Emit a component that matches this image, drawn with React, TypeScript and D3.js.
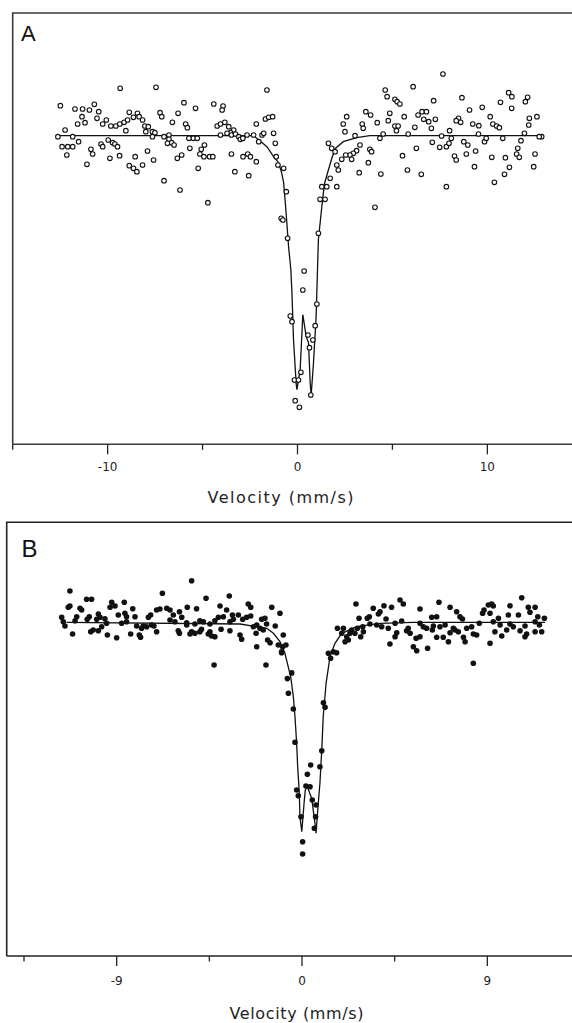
import React from "react";
import * as d3 from "d3";

const W = 572;
const H = 1023;

const majorTicksA = [-10, 0, 10];
const minorTicksA = [-15, -5, 5, 15];
const majorTicksB = [-9, 0, 9];
const minorTicksB = [-13.5, -4.5, 4.5, 13.5];

// Panel A: [velocity (mm/s), relative transmission (%)]
const spectrumA: [number, number][] = [
  [-9.34,104.74],[-7.45,104.84],[-1.61,104.57],[-12.49,103.00],[-11.72,102.67],[-11.32,102.67],[-10.96,102.57],[-10.70,103.14],[-10.47,102.40],[-11.35,101.90],
  [-10.56,101.74],[-11.58,101.17],[-11.19,101.30],[-10.26,101.17],[-10.07,101.57],[-9.83,100.97],[-9.57,100.97],[-9.36,101.17],[-9.13,101.34],[-8.95,101.57],
  [-8.86,102.34],[-8.64,101.84],[-8.43,102.24],[-8.34,101.90],[-8.16,101.57],[-9.04,100.50],[-8.04,100.97],[-7.86,100.90],[-7.99,100.40],[-7.64,100.40],
  [-7.51,100.30],[-7.24,102.30],[-7.15,101.90],[-6.59,101.34],[-6.29,102.24],[-5.98,103.30],[-5.89,101.17],[-5.80,100.80],[-5.37,102.74],[-4.41,103.17],
  [-3.92,102.97],[-3.97,102.57],[-4.23,100.97],[-4.06,101.17],[-3.83,101.34],[-3.62,100.90],[-3.36,100.57],[-3.53,100.30],[-2.17,101.17],[-1.69,101.67],
  [-1.52,101.84],[-1.31,101.90],[-1.26,100.24],[-1.17,99.24],[-12.62,99.90],[-12.24,100.57],[-11.84,99.90],[-11.53,99.40],[-12.40,98.90],[-12.10,98.90],
  [-11.84,98.90],[-12.15,98.07],[-10.88,98.64],[-10.79,98.17],[-10.35,99.17],[-10.26,98.90],[-9.97,99.57],[-9.74,99.30],[-9.62,99.17],[-9.48,98.90],
  [-9.37,98.00],[-9.88,97.74],[-8.55,97.90],[-7.90,98.47],[-7.58,97.57],[-8.86,97.00],[-8.64,96.74],[-8.46,96.40],[-8.16,97.07],[-7.03,99.90],
  [-6.77,100.07],[-6.77,99.64],[-6.63,99.30],[-6.50,99.07],[-6.85,99.24],[-7.64,99.90],[-6.33,97.74],[-6.10,98.07],[-5.67,98.74],[-5.49,99.74],
  [-5.28,99.74],[-5.72,99.74],[-5.07,98.64],[-4.90,99.07],[-5.14,98.17],[-4.93,97.90],[-4.63,97.90],[-4.46,97.90],[-5.23,96.74],[-7.03,95.50],
  [-6.19,94.57],[-4.72,93.30],[-11.09,97.14],[-4.06,100.07],[-3.71,100.24],[-3.48,100.07],[-3.27,100.17],[-3.09,99.90],[-3.01,99.64],[-2.88,99.74],
  [-2.66,100.07],[-2.31,100.07],[-2.04,99.40],[-1.87,100.07],[-1.78,100.24],[-3.48,98.17],[-3.30,96.40],[-2.87,97.90],[-2.62,98.17],[-2.48,97.90],
  [-2.17,97.40],[-2.57,96.00],[-1.12,97.90],[-1.03,97.07],[-0.73,96.74],
  [-0.59,94.4],[-0.86,91.74],[-0.77,91.57],[-0.52,89.74],[1.28,94.9],[1.54,94.9],[1.19,93.64],[1.45,93.64],[2.07,94.9],[1.10,90.24],
  [0.35,86.47],[0.28,84.57],[1.02,83.17],[0.93,81.0],[-0.38,81.97],[-0.29,81.4],[0.55,80.07],[0.81,79.57],[0.63,78.8],[0.18,76.34],
  [-0.16,75.57],[0.05,75.57],[-0.12,73.5],[0.10,72.84],[0.70,74.07],
  [7.66,106.17],[4.62,104.57],[6.09,104.90],[4.72,103.90],[5.13,103.64],[5.25,103.40],[5.39,103.17],[7.17,103.50],[8.66,103.80],[11.12,104.30],
  [11.29,103.90],[12.12,103.84],[12.00,103.40],[10.69,103.34],[11.28,102.74],[9.73,102.84],[9.06,102.57],[2.59,101.90],[2.41,101.17],[2.50,100.40],
  [3.60,102.40],[3.85,102.07],[4.20,101.30],[3.41,101.17],[3.46,100.74],[4.78,101.50],[4.86,102.24],[5.62,101.90],[5.13,100.97],[5.30,100.97],
  [5.21,100.50],[6.35,102.07],[6.56,102.40],[6.79,102.40],[6.65,101.64],[6.91,101.40],[7.26,101.64],[7.05,100.74],[6.18,100.84],[8.48,101.74],
  [8.59,101.34],[8.36,101.50],[9.23,101.17],[9.55,101.00],[10.15,101.90],[10.29,101.17],[10.49,100.97],[10.63,100.80],[12.21,101.74],[12.61,101.90],
  [12.18,101.07],[8.01,100.50],[5.83,100.17],[4.51,100.17],[4.34,99.74],[3.03,100.00],[1.63,99.24],[1.80,98.74],[1.98,98.40],[3.29,99.07],
  [3.11,98.50],[2.94,98.24],[2.76,98.07],[2.54,98.07],[2.33,97.64],[2.85,97.64],[3.81,98.64],[3.90,98.40],[3.73,97.30],[2.07,97.07],
  [2.15,96.57],[3.25,96.30],[4.39,96.17],[5.53,98.00],[5.79,96.57],[6.52,96.14],[6.26,98.74],[7.10,99.34],[7.49,98.84],[7.59,99.97],
  [7.84,98.90],[7.98,99.24],[8.10,99.74],[8.27,97.97],[8.36,97.57],[8.89,98.17],[8.76,99.40],[8.97,99.07],[9.38,98.47],[9.32,96.90],
  [9.53,100.17],[9.85,99.40],[9.94,99.74],[10.23,97.84],[10.81,99.74],[10.95,97.80],[11.16,96.84],[10.90,96.14],[10.37,95.34],[11.60,98.74],
  [11.54,98.17],[11.68,97.84],[11.77,99.50],[11.95,100.24],[12.51,98.17],[12.44,96.90],[12.86,99.90],[12.73,99.90],[7.84,94.90],[4.08,92.84],
  [1.72,95.74],
];

const fitCurveA: [number, number][] = [
  [-12.71,100.0],[-2.31,100.0],[-2.05,99.6],[-1.61,98.9],[-1.26,97.9],[-1.0,97.3],[-0.85,96.4],[-0.73,95.3],[-0.65,93.5],[-0.55,91.0],
  [-0.47,88.9],[-0.35,86.6],[-0.29,84.2],[-0.21,79.6],[-0.07,75.2],[-0.03,74.6],[0.14,76.6],[0.28,82.1],[0.46,79.9],[0.58,79.3],
  [0.67,75.2],[0.72,74.1],[0.84,77.2],[0.98,81.9],[1.10,89.6],[1.28,92.9],[1.42,95.2],[1.63,96.6],[1.80,97.7],[1.98,98.7],
  [2.41,99.4],[3.12,99.8],[3.81,100.0],[12.91,100.0],
];

// Panel B: [velocity (mm/s), relative transmission (%)]
const spectrumB: [number, number][] = [
  [-5.36,104.16],[-11.27,103.13],[-6.78,102.90],[-4.66,102.40],[-3.53,102.63],[-10.46,102.30],[-10.22,102.30],[-8.63,102.00],[-9.24,102.00],[-11.27,101.63],
  [-11.35,101.50],[-10.78,101.40],[-10.70,101.23],[-9.32,101.50],[-9.08,101.63],[-8.22,101.36],[-7.06,101.23],[-6.90,101.33],[-6.57,101.40],[-6.41,101.23],
  [-5.95,101.06],[-5.57,101.50],[-5.12,101.36],[-3.98,101.63],[-3.66,101.23],[-2.61,101.83],[-2.49,101.50],[-1.47,101.50],[-1.07,100.90],[-11.67,100.50],
  [-10.94,100.56],[-10.33,100.56],[-9.89,100.83],[-9.81,100.50],[-8.92,100.73],[-8.60,100.90],[-8.52,100.56],[-8.11,100.56],[-7.46,100.50],[-7.35,100.73],
  [-6.25,100.73],[-5.84,100.50],[-5.60,99.96],[-4.06,100.50],[-3.82,100.56],[-3.38,100.73],[-3.09,100.73],[-2.88,100.30],[-2.69,100.50],[-2.49,100.63],
  [-1.96,100.30],[-1.80,100.40],[-11.59,100.06],[-11.02,100.16],[-10.43,100.30],[-9.97,100.30],[-9.57,100.36],[-9.49,99.90],[-8.76,99.90],[-8.52,100.06],
  [-8.03,99.63],[-7.79,99.40],[-7.71,99.63],[-7.54,99.56],[-7.30,99.73],[-7.19,99.63],[-6.41,100.23],[-6.17,100.06],[-5.60,99.73],[-5.20,99.83],
  [-4.96,100.16],[-4.79,100.06],[-4.47,99.83],[-4.23,100.16],[-3.50,100.06],[-3.33,100.30],[-2.20,99.73],[-2.36,99.56],[-2.04,99.40],[-1.72,99.83],
  [-11.51,99.63],[-11.14,98.83],[-10.26,99.06],[-10.14,99.23],[-9.89,99.16],[-9.73,99.56],[-9.45,98.73],[-9.00,98.46],[-8.32,98.83],[-7.90,98.73],
  [-7.84,98.50],[-7.06,99.06],[-5.95,98.90],[-6.01,99.16],[-5.44,98.83],[-5.36,99.06],[-5.20,98.90],[-4.96,99.06],[-4.88,99.30],[-4.55,98.83],
  [-4.39,98.63],[-4.47,99.06],[-4.23,98.56],[-3.93,99.30],[-3.50,99.16],[-3.01,98.73],[-2.93,98.30],[-2.23,98.90],[-1.88,99.23],[-1.67,98.23],
  [-1.55,97.96],[-1.30,99.63],[-0.91,98.73],[-1.15,97.73],[-0.94,97.56],[-0.78,97.73],[-0.99,97.06],[-4.27,95.73],[-1.75,95.73],[-2.20,97.56],
  [-0.99,96.96],[-0.50,94.94],[-0.71,94.37],[-0.66,92.90],[-0.42,91.33],[-0.34,88.0],[-0.26,83.23],[-0.18,82.66],[-0.05,80.56],[0.03,78.06],
  [0.03,76.83],[0.26,84.80],[0.42,85.73],[0.19,83.63],[0.39,83.56],[0.50,82.23],[0.68,81.73],[0.66,80.56],[0.60,79.40],[0.96,87.16],
  [0.87,85.56],[1.04,91.96],[1.12,91.50],[1.28,96.90],[1.39,96.40],[1.52,97.06],[1.68,96.96],
  [10.67,102.46],[2.62,101.83],[4.76,102.23],[4.92,101.83],[6.65,102.00],[3.98,101.66],[4.35,101.50],[5.73,101.33],[7.19,101.50],[7.51,101.06],
  [8.84,101.23],[9.05,101.73],[9.21,101.83],[9.29,101.63],[10.10,101.66],[10.99,101.50],[11.32,101.50],[3.46,101.40],[3.71,100.83],[3.79,101.06],
  [3.27,100.56],[2.77,100.40],[3.17,100.40],[4.08,100.33],[4.52,99.90],[4.84,100.13],[6.30,100.50],[6.54,100.56],[7.67,100.56],[7.79,100.33],
  [8.77,100.90],[9.13,100.90],[9.54,100.40],[10.02,100.73],[10.51,100.73],[11.07,101.00],[11.45,100.56],[11.77,100.40],[1.72,99.40],[2.01,99.40],
  [2.41,99.23],[2.69,99.40],[2.95,99.56],[3.30,99.83],[3.63,99.73],[3.87,99.56],[4.19,99.40],[5.16,99.40],[5.73,99.90],[5.89,99.56],
  [6.05,99.40],[6.38,99.63],[6.70,99.56],[6.95,99.73],[7.43,99.23],[7.59,99.06],[8.00,99.40],[8.24,99.56],[8.61,99.90],[9.29,100.06],
  [9.62,99.73],[10.10,99.83],[10.26,99.56],[10.83,99.63],[11.32,100.06],[11.53,99.73],[1.93,98.90],[2.17,98.56],[2.33,98.90],[2.09,98.06],
  [2.57,98.90],[2.85,98.56],[2.25,98.23],[2.98,99.06],[4.60,98.96],[4.52,98.56],[5.08,99.16],[5.25,98.90],[5.54,98.40],[5.73,98.56],
  [6.33,99.23],[6.54,98.50],[6.86,98.50],[7.19,98.96],[7.35,99.40],[7.84,98.50],[7.92,98.06],[8.32,98.83],[8.48,98.73],[9.37,99.06],
  [9.70,98.63],[9.94,99.23],[10.59,99.16],[10.83,98.56],[10.91,98.83],[11.32,99.06],[11.64,99.06],[4.27,97.83],[5.41,97.56],[5.57,97.16],
  [6.10,97.40],[7.11,98.06],[9.13,97.90],[8.32,95.90],
];

const fitCurveB: [number, number][] = [
  [-11.43,100.0],[-3.01,99.83],[-1.71,99.4],[-1.39,98.9],[-1.07,98.06],[-0.83,96.9],[-0.71,95.9],[-0.55,94.56],[-0.42,92.56],[-0.34,90.56],
  [-0.26,87.9],[-0.21,85.56],[-0.13,82.9],[-0.10,80.56],[-0.01,79.06],[0.10,81.9],[0.16,83.23],[0.26,83.56],[0.47,82.4],[0.63,79.9],
  [0.68,78.9],[0.79,81.9],[0.87,83.9],[0.96,87.23],[1.03,90.56],[1.17,93.9],[1.36,96.56],[1.60,97.9],[1.93,98.9],[2.66,99.56],
  [3.80,99.9],[5.41,100.0],[11.80,100.0],
];

const FONT = "'Liberation Sans', Arial, Helvetica, sans-serif";
const AXIS_FONT = "'DejaVu Sans', Verdana, sans-serif";

type PanelProps = {
  x: d3.ScaleLinear<number, number>;
  y: d3.ScaleLinear<number, number>;
  left: number;
  top: number;
  axisY: number;
  frameColor: string;
  data: [number, number][];
  fit: [number, number][];
  filled: boolean;
  major: number[];
  minor: number[];
  label: string;
  labelX: number;
  labelY: number;
  labelSize: number;
  tickLabelY: number;
  titleX: number;
  titleY: number;
  titleLen: number;
};

function Panel(p: PanelProps) {
  const line = d3
    .line<[number, number]>()
    .x((d) => p.x(d[0]))
    .y((d) => p.y(d[1]));
  return (
    <g>
      <path
        d={`M${p.left},${p.axisY}V${p.top}H${W}`}
        fill="none"
        stroke={p.frameColor}
        strokeWidth={1.6}
      />
      <line x1={p.left} x2={W} y1={p.axisY} y2={p.axisY} stroke={p.frameColor} strokeWidth={1.6} />
      {p.major.map((t) => (
        <g key={"M" + t}>
          <line x1={p.x(t)} x2={p.x(t)} y1={p.axisY} y2={p.axisY + 10} stroke="#222" strokeWidth={1.3} />
          <text
            x={p.x(t)}
            y={p.tickLabelY}
            textAnchor="middle"
            fontFamily={AXIS_FONT}
            fontSize={12}
            fill="#222"
          >
            {String(t)}
          </text>
        </g>
      ))}
      {p.minor.map((t) => (
        <line key={"m" + t} x1={p.x(t)} x2={p.x(t)} y1={p.axisY} y2={p.axisY + 5.5} stroke="#222" strokeWidth={1.3} />
      ))}
      <text
        x={p.titleX}
        y={p.titleY}
        textAnchor="middle"
        fontFamily={AXIS_FONT}
        fontSize={16}
        fill="#222"
        textLength={p.titleLen}
        lengthAdjust="spacing"
      >
        Velocity (mm/s)
      </text>
      <text x={p.labelX} y={p.labelY} fontFamily={FONT} fontSize={p.labelSize} fill="#111">
        {p.label}
      </text>
      <path d={line(p.fit) || ""} fill="none" stroke="#111" strokeWidth={1.3} />
      {p.data.map((d, i) =>
        p.filled ? (
          <circle key={i} cx={p.x(d[0])} cy={p.y(d[1])} r={2.8} fill="#111" />
        ) : (
          <circle
            key={i}
            cx={p.x(d[0])}
            cy={p.y(d[1])}
            r={2.3}
            fill="white"
            stroke="#111"
            strokeWidth={1.1}
          />
        )
      )}
    </g>
  );
}

export default function App() {
  const xA = d3.scaleLinear().domain([-15, 15]).range([12.7, 582.3]);
  const yA = d3.scaleLinear().domain([100, 90]).range([135.7, 235.7]);
  const xB = d3.scaleLinear().domain([-13.5, 13.5]).range([24, 580]);
  const yB = d3.scaleLinear().domain([100, 90]).range([622.3, 722.3]);
  return (
    <svg
      width={W}
      height={H}
      viewBox={`0 0 ${W} ${H}`}
      style={{ position: "absolute", left: 0, top: 0, background: "white" }}
    >
      <rect x={0} y={0} width={W} height={H} fill="white" />
      <Panel
        x={xA}
        y={yA}
        left={12.7}
        top={13}
        axisY={444.3}
        frameColor="#3a3a3a"
        data={spectrumA}
        fit={fitCurveA}
        filled={false}
        major={majorTicksA}
        minor={minorTicksA}
        label="A"
        labelX={21}
        labelY={40.7}
        labelSize={22}
        tickLabelY={471}
        titleX={280.5}
        titleY={503}
        titleLen={146}
      />
      <Panel
        x={xB}
        y={yB}
        left={6.7}
        top={522.3}
        axisY={956}
        frameColor="#222"
        data={spectrumB}
        fit={fitCurveB}
        filled={true}
        major={majorTicksB}
        minor={minorTicksB}
        label="B"
        labelX={21.5}
        labelY={557}
        labelSize={24}
        tickLabelY={985}
        titleX={296.5}
        titleY={1018.5}
        titleLen={134}
      />
    </svg>
  );
}
